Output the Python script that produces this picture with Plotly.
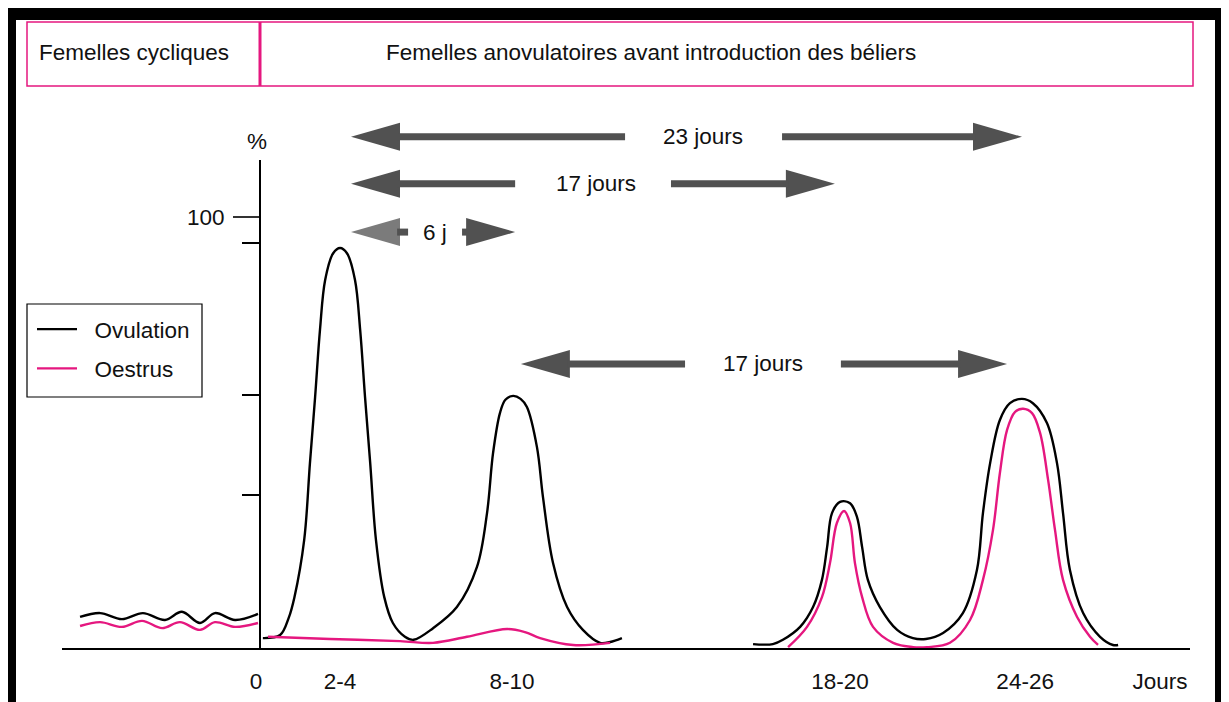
import plotly.graph_objects as go

# plot area, in pixels of the reference picture (page has an 8px body margin)
OFF = 8
FIG_W, FIG_H = 1229 - OFF, 702 - OFF
L, R, T, B = 62, 1190, 100, 648
PX_DAY = 28.7
PX_PCT = 4.31
X0_PX = 260  # pixel of day 0 (vertical axis)

X_MIN = (L - X0_PX) / PX_DAY
X_MAX = (R - X0_PX) / PX_DAY
Y_MAX = (B - T) / PX_PCT

PINK = "#e5177f"
ARROW = "#515151"
FONT = "Liberation Sans, Arial, sans-serif"
FS = 22.5

# --- femelles cycliques (avant j0) ---
cyc_day = [-6.27, -5.57, -4.81, -4.08, -3.31, -2.72, -2.09, -1.57, -0.87, -0.07]
cyc_ovulation = [7.2, 8.1, 6.7, 8.1, 6.5, 8.4, 5.8, 8.1, 6.5, 7.9]
cyc_day_oe = [-6.27, -5.57, -4.81, -4.11, -3.41, -2.79, -2.09, -1.57, -0.87, -0.07]
cyc_oestrus = [5.1, 6.0, 4.9, 6.3, 4.6, 6.0, 4.2, 6.0, 4.9, 5.8]

# --- premiers cycles après introduction des béliers (2-4 et 8-10) ---
ov1_day = [0.10, 0.70, 1.00, 1.20, 1.54, 1.74, 1.92, 2.09, 2.27, 2.55, 2.79, 3.03,
           3.31, 3.49, 3.66, 3.84, 4.04, 4.33, 4.63, 5.05, 5.35, 6.03, 6.86, 7.56,
           7.91, 8.12, 8.36, 8.55, 8.82, 9.08, 9.30, 9.65, 9.86, 10.21, 10.70,
           11.25, 11.85, 12.20, 12.61]
ov1 = [2.3, 3.0, 7.0, 11.8, 25.1, 42.9, 58.2, 73.8, 85.4, 91.6, 92.8, 91.6,
       85.4, 73.8, 58.2, 42.9, 25.1, 11.8, 5.8, 2.6, 1.9, 4.6, 9.5, 18.8,
       31.3, 45.2, 54.5, 57.6, 58.5, 57.8, 55.9, 46.6, 35.0, 19.7, 9.5,
       4.2, 1.2, 1.4, 2.3]
oe1_day = [0.28, 2.44, 4.88, 6.03, 7.21, 8.61, 9.23, 9.76, 10.91, 12.20]
oe1 = [2.6, 2.1, 1.6, 1.2, 2.6, 4.4, 3.7, 2.3, 0.7, 1.2]

# --- cycles suivants (18-20 et 24-26) ---
ov2_day = [17.18, 17.87, 18.22, 18.82, 19.27, 19.58, 19.76, 19.93, 20.21, 20.56,
           20.80, 20.98, 21.18, 21.60, 22.20, 22.75, 23.20, 23.80, 24.49, 24.98,
           25.19, 25.44, 25.78, 26.13, 26.55, 26.93, 27.42, 27.77, 27.98, 28.22,
           28.68, 29.27, 29.72, 29.90]
ov2 = [0.9, 0.9, 1.9, 4.9, 9.5, 15.8, 23.4, 31.3, 33.9, 33.6,
       30.4, 23.4, 15.8, 9.5, 4.2, 2.3, 2.1, 3.5, 8.1, 18.1,
       31.3, 42.9, 52.9, 56.8, 57.8, 56.8, 52.2, 42.9, 31.3, 18.1,
       8.1, 2.6, 0.7, 0.7]
oe2_day = [18.40, 19.06, 19.58, 19.86, 20.10, 20.35, 20.56, 20.73, 20.98, 21.36,
           22.06, 22.75, 23.24, 24.04, 24.74, 25.19, 25.54, 25.78, 26.03, 26.31,
           26.59, 26.90, 27.18, 27.46, 27.70, 27.98, 28.47, 28.92, 29.20]
oe2 = [0.2, 4.9, 11.8, 19.7, 29.0, 31.8, 29.0, 19.7, 11.8, 4.9,
       1.2, 0.2, 0.2, 1.2, 6.5, 15.8, 27.4, 40.6, 50.6, 54.8,
       55.5, 54.5, 49.9, 39.0, 27.4, 15.8, 7.2, 2.6, 0.7]

tick_pos = [-0.14, 2.79, 8.78, 20.21, 26.66, 31.36]
tick_text = ["0", "2-4", "8-10", "18-20", "24-26", "Jours"]
y_ticks = [94.0, 58.7, 35.5]

arrows = [
    dict(text="23 jours", x0=3.17, x1=26.55, y=118.6, gap=(12.72, 18.19), tx=15.44),
    dict(text="17 jours", x0=3.17, x1=20.03, y=107.7, gap=(8.89, 14.32), tx=11.71),
    dict(text="6 j", x0=3.17, x1=8.89, y=96.5, gap=(5.16, 7.04), tx=6.10),
    dict(text="17 jours", x0=9.09, x1=26.03, y=65.9, gap=(14.81, 20.24), tx=17.53),
]


def joined(*segs):
    xs, ys = [], []
    for sx, sy in segs:
        xs += list(sx) + [None]
        ys += list(sy) + [None]
    return xs[:-1], ys[:-1]


def px(x):
    return (x - L) / (R - L)


def py(y):
    return (B - y) / (B - T)


fig = go.Figure()

xo, yo = joined((cyc_day, cyc_ovulation), (ov1_day, ov1), (ov2_day, ov2))
fig.add_trace(go.Scatter(x=xo, y=yo, mode="lines", name="\u00a0\u00a0Ovulation",
                         line=dict(color="black", width=2.4, shape="spline", smoothing=1.0),
                         legendgroup="ov", connectgaps=False))
xe, ye = joined((cyc_day_oe, cyc_oestrus), (oe1_day, oe1), (oe2_day, oe2))
fig.add_trace(go.Scatter(x=xe, y=ye, mode="lines", name="\u00a0\u00a0Oestrus",
                         line=dict(color=PINK, width=2.4, shape="spline", smoothing=1.0),
                         legendgroup="oe", connectgaps=False))
fig.add_trace(go.Scatter(x=[None], y=[None], yaxis="y2", showlegend=False, hoverinfo="skip"))

shapes = []
# vertical axis
shapes.append(dict(type="line", xref="x", yref="y", x0=0, x1=0, y0=0, y1=(B - 160) / PX_PCT,
                   line=dict(color="black", width=2)))

# double arrows
head_len = 49 / PX_DAY
head_h = 14 / PX_PCT
for a in arrows:
    y = a["y"]
    lcol = "#7b7b7b" if a["text"] == "6 j" else ARROW
    shapes.append(dict(type="path", xref="x", yref="y", line=dict(width=0), fillcolor=lcol,
                       path=f"M{a['x0']},{y} L{a['x0'] + head_len},{y + head_h} L{a['x0'] + head_len},{y - head_h} Z"))
    shapes.append(dict(type="path", xref="x", yref="y", line=dict(width=0), fillcolor=ARROW,
                       path=f"M{a['x1']},{y} L{a['x1'] - head_len},{y + head_h} L{a['x1'] - head_len},{y - head_h} Z"))
    shapes.append(dict(type="line", xref="x", yref="y", x0=a["x0"] + head_len - 0.1, x1=a["gap"][0],
                       y0=y, y1=y, line=dict(color=ARROW, width=7)))
    shapes.append(dict(type="line", xref="x", yref="y", x0=a["gap"][1], x1=a["x1"] - head_len + 0.1,
                       y0=y, y1=y, line=dict(color=ARROW, width=7)))

# top header box
shapes.append(dict(type="rect", xref="paper", yref="paper", x0=px(27), x1=px(1193), y0=py(86), y1=py(22),
                   line=dict(color=PINK, width=1.5)))
shapes.append(dict(type="line", xref="paper", yref="paper", x0=px(260), x1=px(260), y0=py(86), y1=py(22),
                   line=dict(color=PINK, width=3)))
# legend box
shapes.append(dict(type="rect", xref="paper", yref="paper", x0=px(27), x1=px(202), y0=py(397), y1=py(304),
                   line=dict(color="black", width=1.2)))
# outer black frame
for x0, x1, y0, y1 in [(8, 1222, 8, 20), (8, 16, 8, 710), (1215, 1222, 8, 710)]:
    shapes.append(dict(type="rect", xref="paper", yref="paper", x0=px(x0), x1=px(x1), y0=py(y1), y1=py(y0),
                       line=dict(width=0), fillcolor="black"))

annotations = [
    dict(text="Femelles cycliques", x=px(134), y=py(52)),
    dict(text="Femelles anovulatoires avant introduction des béliers", x=px(651), y=py(52)),
]
for a in annotations:
    a.update(xref="paper", yref="paper", showarrow=False, xanchor="center", yanchor="middle")
annotations.append(dict(text="%", x=-0.1, y=(B - 141) / PX_PCT, xref="x", yref="y",
                        showarrow=False, xanchor="center", yanchor="middle"))
for a in arrows:
    annotations.append(dict(text=a["text"], x=a["tx"], y=a["y"], xref="x", yref="y",
                            showarrow=False, xanchor="center", yanchor="middle"))

ypos = (0 - X_MIN) / (X_MAX - X_MIN)

fig.update_layout(
    template="none",
    width=FIG_W, height=FIG_H,
    margin=dict(l=L - OFF, r=FIG_W - (R - OFF), t=T - OFF, b=FIG_H - (B - OFF), pad=0),
    paper_bgcolor="white", plot_bgcolor="white",
    font=dict(family=FONT, size=FS, color="#111111"),
    showlegend=True,
    legend=dict(x=px(32), y=py(308), xanchor="left", yanchor="top", bgcolor="rgba(0,0,0,0)",
                borderwidth=0, itemwidth=40, tracegroupgap=7, traceorder="grouped",
                font=dict(size=FS)),
    xaxis=dict(range=[X_MIN, X_MAX], showgrid=False, zeroline=False, showline=True,
               linecolor="black", linewidth=2, ticks="", tickvals=tick_pos, ticktext=tick_text,
               ticklabelstandoff=12, automargin=False, fixedrange=True),
    yaxis=dict(range=[0, Y_MAX], showgrid=False, zeroline=False, showline=False,
               anchor="free", position=ypos, side="left", ticks="outside", ticklen=18,
               tickwidth=2, tickcolor="black", tickvals=y_ticks, showticklabels=False,
               automargin=False, fixedrange=True),
    yaxis2=dict(range=[0, Y_MAX], overlaying="y", showgrid=False, zeroline=False, showline=False,
                anchor="free", position=ypos, side="left", ticks="outside", ticklen=27,
                tickwidth=2, tickcolor="#333", tickvals=[100], ticktext=["100"],
                ticklabelstandoff=4, automargin=False, fixedrange=True),
    shapes=shapes,
    annotations=annotations,
)

fig.write_html("out.html")
